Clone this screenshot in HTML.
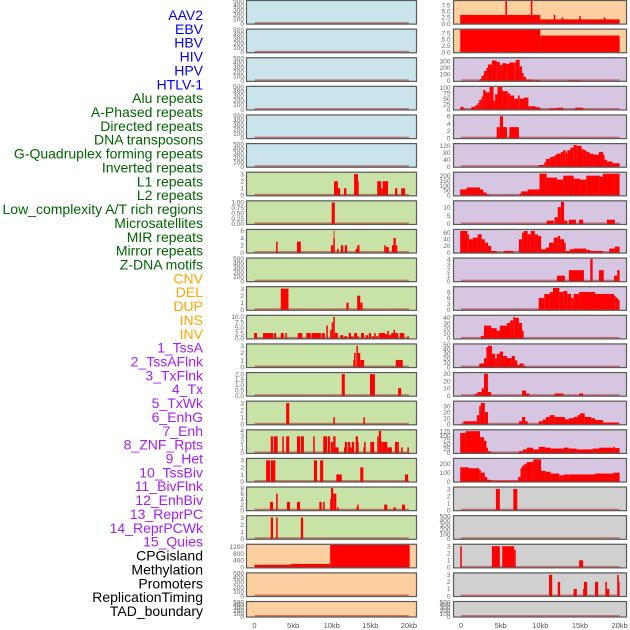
<!DOCTYPE html>
<html><head><meta charset="utf-8"><style>
html,body{margin:0;padding:0;background:#fff;width:630px;height:630px;overflow:hidden}
svg{display:block;font-family:"Liberation Sans",sans-serif}
</style></head><body>
<svg id="chart" width="630" height="630" viewBox="0 0 630 630"></svg>
<script>
const trackNames=["AAV2","EBV","HBV","HIV","HPV","HTLV-1","Alu repeats","A-Phased repeats","Directed repeats","DNA transposons","G-Quadruplex forming repeats","Inverted repeats","L1 repeats","L2 repeats","Low_complexity A/T rich regions","Microsatellites","MIR repeats","Mirror repeats","Z-DNA motifs","CNV","DEL","DUP","INS","INV","1_TssA","2_TssAFlnk","3_TxFlnk","4_Tx","5_TxWk","6_EnhG","7_Enh","8_ZNF_Rpts","9_Het","10_TssBiv","11_BivFlnk","12_EnhBiv","13_ReprPC","14_ReprPCWk","15_Quies","CPGisland","Methylation","Promoters","ReplicationTiming","TAD_boundary"];
const trackGroups=[0,0,0,0,0,0,1,1,1,1,1,1,1,1,1,1,1,1,1,2,2,2,2,2,3,3,3,3,3,3,3,3,3,3,3,3,3,3,3,4,4,4,4,4];
const xTickValues=[0,5,10,15,20];
const xTickLabels=["0","5kb","10kb","15kb","20kb"];
const T500=["0","100","200","300","400","500"];
const T3=["0","1","2","3"];
// left column panels: [kbStart, kbEnd, value]
const L6=[[10.3,10.8,2],[10.8,11.1,1],[11.6,11.9,1],[12.9,13.4,3],[13.4,13.5,2],[15.9,16.4,2],[16.4,16.6,1],[16.6,17.3,2],[18.2,18.5,1],[19.0,19.5,1]];
const L7=[[10.0,10.4,1]];
const L8=[[2.8,3.0,3],[5.5,6.0,3],[9.9,10.2,2],[10.2,10.4,4],[10.25,10.35,6],[10.7,10.9,1],[11.2,11.5,2],[11.7,12.0,2],[13.1,13.4,1],[13.3,13.6,2],[16.8,17.0,2],[17.0,17.4,1.5],[17.8,18.1,2],[18.0,18.3,4],[18.3,18.5,2]];
const L10=[[3.4,4.4,3],[11.9,12.2,1],[13.3,13.7,2],[13.7,14.0,1]];
const L11=[[-0.06,0.32,2.5],[1.1,2.4,2.5],[2.5,2.8,2.5],[3.4,3.8,2.5],[4.0,4.2,2.5],[5.6,6.2,2.5],[6.7,7.3,2.5],[7.4,8.6,2.5],[8.7,9.1,2.5],[9.3,9.5,6],[9.8,10.0,4],[10.0,10.2,7.5],[10.2,10.4,10],[10.4,10.8,2.5],[11.1,11.5,1.5],[11.6,12.0,1],[12.2,12.5,2.5],[12.5,12.8,1],[12.9,13.3,2.5],[13.3,13.5,1],[13.8,14.2,2.5],[14.4,14.7,1.5],[14.8,15.1,2.5],[15.2,15.5,1],[15.5,15.7,2.5],[15.7,16.0,1],[16.1,16.9,2.5],[16.9,17.2,2],[17.2,17.4,3.5],[17.4,17.7,1.5],[17.7,18.0,2.5],[18.0,18.2,4],[18.2,18.6,2.5],[18.8,19.4,2.5],[19.8,20.0,1]];
const L12=[[12.8,13.0,1],[12.9,13.1,2],[13.2,13.4,3],[13.4,13.7,2],[13.7,14.2,1],[18.3,19.2,1]];
const L13=[[11.3,11.7,2],[14.96,15.6,2],[18.6,19.0,0.7]];
const L14=[[4.1,4.5,3],[10.2,10.4,1],[14.1,14.3,1]];
const L15=[[2.1,2.4,3],[2.5,3.0,3],[3.6,3.8,3],[4.1,4.5,3],[5.5,5.9,3],[6.0,6.4,3],[7.6,7.8,3],[8.9,9.4,3],[9.5,9.8,3],[9.9,10.2,2],[10.2,10.5,3],[10.4,10.9,1],[11.6,11.9,1],[11.7,12.0,2],[12.1,12.4,2],[12.4,12.9,1],[12.6,12.9,2],[13.1,13.4,3],[13.3,13.5,2],[14.1,14.3,1],[14.2,14.4,2],[15.0,15.5,2],[15.9,16.1,3],[16.1,16.4,4],[16.4,16.6,2],[16.6,17.2,2],[17.2,17.8,1],[18.2,18.5,2],[18.5,18.7,2],[19.0,19.2,1],[19.8,20.0,1]];
const L16=[[1.5,2.0,3],[2.1,2.7,3],[7.7,8.1,3],[8.5,8.9,3],[10.6,11.3,1],[13.7,14.1,2],[19.5,19.9,1]];
const L17=[[2.0,2.4,3],[2.8,3.0,6],[4.2,4.6,3],[5.5,5.9,3],[8.4,8.7,3],[8.9,9.1,3],[9.8,10.0,4],[9.9,10.2,8],[10.2,10.6,6],[10.7,10.9,1],[13.2,13.4,1],[13.3,13.5,2],[16.8,17.2,2],[18.0,18.3,1],[19.1,19.5,2]];
const L18=[[2.1,2.4,3],[2.8,3.0,3],[6.0,6.3,3]];
const L19=[[0,4.7,150],[4.7,9.8,200],[9.8,20.1,1300]];
// right column panels
const R0=[[-0.1,10.0,3.5],[10.0,20.0,1.7],[5.6,5.8,9.1],[8.8,9.0,9.1],[11.7,11.9,3.5],[12.7,12.9,2.5],[14.9,15.1,3],[18.0,18.2,2.5]];
const R1=[[-0.1,10.0,8.8],[10.0,20.0,6.5]];
const R2=[[2.2,2.4,10],[2.4,2.6,30],[2.6,2.9,80],[2.9,3.2,150],[3.2,3.4,200],[3.4,3.9,250],[3.9,4.5,310],[4.5,4.9,290],[4.9,5.2,240],[5.2,5.7,270],[5.7,6.1,260],[6.1,6.7,280],[6.7,6.9,280],[6.9,7.4,320],[7.4,7.7,220],[7.7,7.9,120],[7.9,8.2,60],[8.2,9.1,20],[9.1,10.0,10],[13.5,15.2,10]];
const R3=[[-0.1,0.3,12],[0.3,0.5,5],[1.3,1.8,12],[1.8,2.1,20],[2.1,2.3,30],[2.3,2.6,45],[2.6,2.8,60],[2.8,3.1,90],[3.1,3.6,80],[3.6,4.1,105],[4.1,4.3,40],[4.3,4.6,70],[4.6,5.2,105],[5.2,5.3,90],[5.3,5.9,85],[5.9,6.2,75],[6.2,6.7,65],[6.7,7.2,50],[7.2,7.4,65],[7.4,7.9,50],[7.9,8.2,55],[8.2,8.5,55],[8.5,8.8,15],[8.8,9.4,15],[9.4,10.0,10],[11.1,12.1,5],[12.1,12.9,8],[14.4,15.4,8]];
const R4=[[4.5,4.9,3],[4.9,5.3,6],[5.3,5.8,3],[6.1,7.3,3]];
const R5=[[9.8,10.5,10],[10.5,10.7,25],[10.7,11.2,45],[11.2,11.6,55],[11.6,11.9,60],[11.9,12.1,70],[12.1,12.6,75],[12.6,12.9,85],[12.9,13.2,95],[13.2,13.4,80],[13.4,13.8,95],[13.8,14.2,110],[14.2,14.6,125],[14.6,15.2,120],[15.2,15.5,100],[15.5,15.8,95],[15.8,16.2,85],[16.2,16.7,75],[16.7,17.4,70],[17.4,17.9,85],[17.9,18.1,70],[18.1,18.4,40],[18.4,19.1,30],[19.1,20.0,20]];
const R6=[[-0.1,0.7,60],[0.7,2.4,80],[2.4,2.8,60],[2.8,3.2,30],[3.2,3.5,10],[7.4,7.6,20],[7.6,8.4,40],[8.4,9.1,60],[9.1,9.9,60],[9.9,10.8,220],[10.8,12.1,180],[12.1,12.9,160],[12.9,14.2,200],[14.2,15.0,170],[15.0,15.8,160],[15.8,17.5,200],[17.5,17.9,190],[17.9,20.0,220]];
const R7=[[10.8,11.7,2],[11.8,12.2,4],[12.2,12.6,10],[12.6,13.0,13],[13.0,13.4,2],[13.6,14.5,2.5],[14.9,15.4,2.5],[18.4,19.4,2.5]];
const R8=[[-0.1,0.8,65],[0.8,1.0,55],[1.0,1.5,40],[1.5,2.1,45],[2.1,2.6,55],[2.6,3.0,40],[3.0,3.4,30],[3.4,3.8,20],[3.8,4.5,5],[5.4,6.6,5],[7.3,7.7,40],[7.7,7.9,60],[7.9,8.4,65],[8.4,8.8,55],[8.8,9.3,65],[9.3,9.7,55],[9.7,10.1,50],[10.1,10.7,10],[10.7,11.1,15],[11.1,11.7,30],[11.7,12.2,45],[12.2,12.5,50],[12.5,13.0,40],[13.0,13.2,30],[13.2,13.7,5],[13.7,14.2,10],[14.2,15.8,12],[15.8,16.3,8],[16.3,17.9,5],[18.7,19.4,12],[19.4,20.0,18]];
const R9=[[12.1,13.1,1],[13.6,15.5,2],[16.3,16.6,4],[17.4,18.0,2],[19.3,19.7,1],[19.7,20.0,2]];
const R10=[[9.8,10.5,6],[10.5,11.2,8],[11.2,11.6,9],[11.6,12.4,11],[12.4,12.9,9],[12.9,13.4,9.5],[13.4,13.9,8],[13.9,14.2,6],[14.2,14.9,8],[14.9,16.9,9],[16.9,19.3,8],[19.3,19.5,7],[19.5,19.8,6],[19.8,20.0,5]];
const R11=[[2.5,2.9,5],[2.9,3.8,25],[3.8,4.5,20],[4.5,4.9,15],[4.9,5.8,25],[5.8,6.2,30],[6.2,6.6,35],[6.6,6.8,42],[6.8,7.3,40],[7.3,7.7,30],[7.7,7.9,15]];
const R12=[[2.3,2.9,8],[2.9,3.2,20],[3.2,3.4,45],[3.4,3.9,48],[3.9,4.3,30],[4.3,4.5,20],[4.5,4.9,30],[4.9,5.3,35],[5.3,5.8,25],[5.8,6.4,20],[6.4,6.8,25],[6.8,7.1,15],[7.1,7.4,5],[7.4,7.9,8],[7.9,8.2,2]];
const R13=[[1.8,2.1,3],[2.1,2.6,5],[2.6,2.9,10],[2.9,3.4,30],[3.4,3.8,5],[7.7,8.2,7],[8.2,8.6,3],[11.8,12.9,3],[14.9,15.4,3]];
const R14=[[0.3,2.0,5],[2.0,2.3,15],[2.3,2.5,30],[2.5,3.0,35],[3.0,3.4,20],[7.3,7.7,5],[7.7,8.1,12],[8.1,8.4,5],[9.8,10.3,5],[10.3,10.7,8],[10.7,11.2,12],[11.2,11.8,15],[11.8,13.1,12],[13.1,13.6,8],[13.6,14.2,10],[14.2,14.7,12],[14.7,15.0,15],[15.0,15.6,18],[15.6,16.4,12],[16.4,16.9,10],[16.9,17.9,7],[17.9,19.9,3]];
const R15=[[-0.1,0.6,115],[0.6,2.4,125],[2.4,2.9,90],[2.9,3.2,70],[3.2,3.4,30],[3.4,3.7,10],[3.7,3.9,3],[7.3,7.8,10],[7.8,8.3,20],[8.3,9.1,30],[9.1,9.8,20],[9.8,10.6,35],[10.6,11.3,30],[11.3,12.9,25],[12.9,13.6,30],[13.6,14.6,25],[14.6,16.6,20],[16.6,17.4,25],[17.4,19.2,30],[19.2,19.4,35],[19.4,20.0,28]];
const R16=[[-0.1,1.0,160],[1.0,2.3,150],[2.3,2.5,130],[2.5,3.0,100],[3.0,3.3,50],[3.3,3.8,20],[3.8,7.2,10],[7.2,7.5,50],[7.5,7.7,150],[7.7,8.0,180],[8.0,8.3,200],[8.3,9.1,220],[9.1,10.1,250],[10.1,10.7,120],[10.7,11.3,110],[11.3,12.4,90],[12.4,12.9,70],[12.9,13.6,80],[13.6,16.9,80],[16.9,19.2,90],[19.2,20.0,100]];
const R17=[[4.4,4.9,3],[6.6,7.1,3]];
const R19=[[-0.1,0.1,3],[3.9,4.9,3],[5.2,6.7,3],[6.7,6.9,2.5],[14.9,15.4,1]];
const R20=[[11.1,11.5,3],[12.2,12.5,2],[14.2,14.6,1],[15.4,15.6,1],[15.5,15.9,2],[16.9,17.3,2],[18.2,18.4,2],[18.4,18.7,1],[19.7,19.9,3],[19.8,20.0,2]];
const leftData=[[],[],[],[],[],[],L6,L7,L8,[],L10,L11,L12,L13,L14,L15,L16,L17,L18,L19,[],[]];
const rightData=[R0,R1,R2,R3,R4,R5,R6,R7,R8,R9,R10,R11,R12,R13,R14,R15,R16,R17,[],R19,R20,[]];
const leftTicks=[T500,T500,T500,T500,T500,T500,T3,["0.00","0.25","0.50","0.75","1.00"],["0","2","4","6"],T500,T3,["0.0","2.5","5.0","7.5","10.0"],T3,["0.0","0.5","1.0","1.5","2.0"],T3,["0","1","2","3","4"],T3,["0","2","4","6","8"],T3,["0","400","800","1200"],T500,T500];
const rightTicks=[["0.0","2.5","5.0","7.5"],["0.0","2.5","5.0","7.5"],["0","100","200","300"],["0","25","50","75","100"],["0","2","4","6"],["0","40","80","120"],["0","50","100","150","200"],["0","5","10"],["0","20","40","60"],["0","1","2","3","4"],["0","3","6","9"],["0","10","20","30","40"],["0","10","20","30","40","50"],["0","10","20","30"],["0","10","20","30"],["0","25","50","75","100","125"],["0","100","200"],T3,T500,T3,T3,T500];
const leftYmax=[500,500,500,500,500,500,3.2,1.05,6.2,500,3.2,10.5,3.2,2.1,3.2,4.1,3.2,8.2,3.2,1300,500,500];
const rightYmax=[9.1,8.8,345,105,6.2,130,230,13.4,68,4.1,11.4,44,51,31,37,130,255,3.2,500,3.2,3.2,500];
const leftBg=["#c9e4ea","#c9e4ea","#c9e4ea","#c9e4ea","#c9e4ea","#c9e4ea","#c9e2a8","#c9e2a8","#c9e2a8","#c9e2a8","#c9e2a8","#c9e2a8","#c9e2a8","#c9e2a8","#c9e2a8","#c9e2a8","#c9e2a8","#c9e2a8","#c9e2a8","#fecf9f","#fecf9f","#fecf9f"];
const rightBg=["#fecf9f","#fecf9f","#d6c6e2","#d6c6e2","#d6c6e2","#d6c6e2","#d6c6e2","#d6c6e2","#d6c6e2","#d6c6e2","#d6c6e2","#d6c6e2","#d6c6e2","#d6c6e2","#d6c6e2","#d6c6e2","#d6c6e2","#d0d0d0","#d0d0d0","#d0d0d0","#d0d0d0","#d0d0d0"];

const NS="http://www.w3.org/2000/svg";
const svg=document.getElementById('chart');
const groupColors=["#0000ee","#006400","#ffa500","#a020f0","#000000"];
function mk(tag,attrs,parent){const e=document.createElementNS(NS,tag);for(const k in attrs)e.setAttribute(k,attrs[k]);(parent||svg).appendChild(e);return e;}

const cols=[{x0:246,x1:417,z:254.5,k:7.72,tx:244,data:leftData,ticks:leftTicks,ymax:leftYmax,bg:leftBg,name:'left'},
            {x0:453,x1:627,z:461,k:7.93,tx:450.5,data:rightData,ticks:rightTicks,ymax:rightYmax,bg:rightBg,name:'right'}];
const PITCH=28.62;

trackNames.forEach((n,i)=>{
  const t=mk('text',{x:203,y:15+i*13.86+5,'text-anchor':'end','font-size':'14',fill:groupColors[trackGroups[i]]});
  t.textContent=n;
  
  
});

cols.forEach((c,ci)=>{
  const xs=kb=>c.z+kb*c.k;
  for(let i=0;i<22;i++){
    const top=i*PITCH;
    const h=(i===21)?16.5:24.6;
    const bottom=top+h;
    const ymax=c.ymax[i];
    const ys=v=>bottom-1-(v/ymax)*(h-2);
    const g=mk('g',{});
    
    
    mk('rect',{x:c.x0,y:top,width:c.x1-c.x0,height:h,fill:c.bg[i]},g);
    mk('rect',{x:xs(0),y:ys(0)-1.5,width:xs(20)-xs(0),height:2,fill:'rgba(170,0,0,0.45)'},g);
    c.data[i].forEach(s=>{
      const r=mk('rect',{x:xs(s[0]),y:ys(s[2]),width:Math.max(0.8,xs(s[1])-xs(s[0])),height:ys(0)-ys(s[2]),fill:'#ff0000'},g);
      
      
    });
    mk('rect',{x:c.x0+0.5,y:top+0.5,width:c.x1-c.x0-1,height:h-1,fill:'none',stroke:'#5a5a5a','stroke-width':1.2},g);
    c.ticks[i].forEach(tl=>{
      const t=mk('text',{x:c.tx,y:ys(parseFloat(tl))+2.3,'text-anchor':'end','font-size':'6.5',fill:'#666'},g);
      t.textContent=tl;
      
      
    });
  }
  xTickValues.forEach((v,j)=>{
    const t=mk('text',{x:xs(v),y:628,'text-anchor':'middle','font-size':'7.5',fill:'#555'});
    t.textContent=xTickLabels[j];
    
    
  });
});
</script>
</body></html>
